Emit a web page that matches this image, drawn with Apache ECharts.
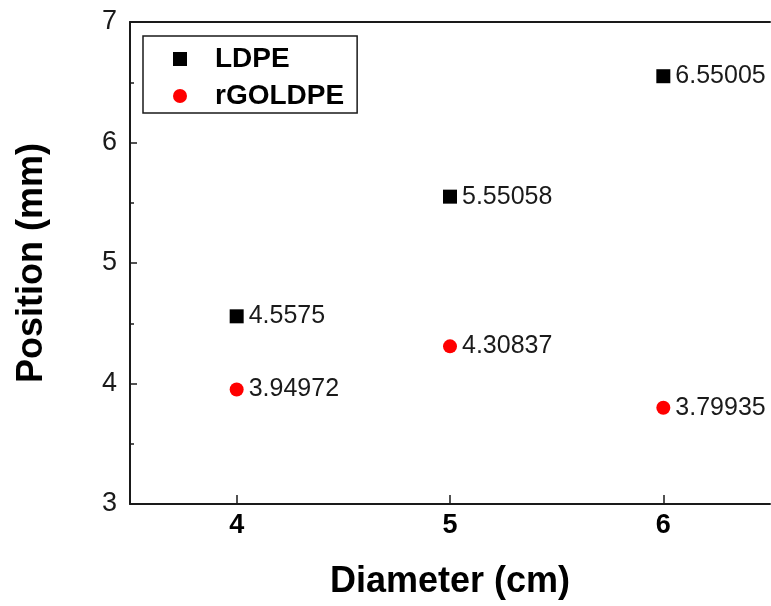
<!DOCTYPE html>
<html>
<head>
<meta charset="utf-8">
<script src="https://cdn.jsdelivr.net/npm/echarts@6/dist/echarts.min.js"></script>
<style>
  html, body { margin: 0; padding: 0; background: #fff; }
  #main { width: 771px; height: 606px; }
</style>
</head>
<body>
<div id="main"></div>
<script>
// data
var diameters = [4, 5, 6];
var ldpe = [4.5575, 5.55058, 6.55005];
var rgoldpe = [3.94972, 4.30837, 3.79935];
var xTicks = [4, 5, 6];
var ldpeLabels = ['4.5575', '5.55058', '6.55005'];
var rgoldpeLabels = ['3.94972', '4.30837', '3.79935'];

var font = 'Liberation Sans, Arial, sans-serif';
var ink = '#1a1a1a';

function pairs(xs, ys) {
  return xs.map(function (x, i) { return [x, ys[i]]; });
}

function labelFor(texts) {
  return {
    show: true,
    position: 'right',
    distance: 5,
    color: ink,
    opacity: 1,
    fontFamily: font,
    fontSize: 25,
    formatter: function (p) { return texts[p.dataIndex]; }
  };
}

var myChart = echarts.init(document.getElementById('main'));
myChart.setOption({
  animation: false,
  backgroundColor: '#fff',
  grid: { left: 130, top: 22, right: 1, bottom: 102 },
  legend: {
    orient: 'vertical',
    left: 143,
    top: 36,
    padding: [9, 13, 3, 30],
    itemGap: 9,
    itemWidth: 14,
    itemHeight: 14,
    borderColor: ink,
    borderWidth: 1.5,
    textStyle: { fontFamily: font, fontSize: 28, fontWeight: 'bold', color: '#000', padding: [0, 0, 0, 23] },
    data: [
      { name: 'LDPE', icon: 'rect', itemStyle: { color: '#000', opacity: 1 } },
      { name: 'rGOLDPE', icon: 'circle', itemStyle: { color: '#ff0000', opacity: 1 } }
    ]
  },
  xAxis: [{
    type: 'value',
    min: 3.5,
    max: 6.5,
    name: 'Diameter (cm)',
    nameLocation: 'middle',
    nameGap: 60,
    nameTextStyle: { fontFamily: font, fontSize: 36, fontWeight: 'bold', color: '#000' },
    axisLine: { show: true, lineStyle: { color: ink, width: 2 } },
    axisTick: { show: true, inside: true, length: 9, customValues: xTicks, lineStyle: { color: ink, width: 1.5 } },
    axisLabel: { customValues: xTicks, margin: 8, fontFamily: font, fontSize: 27, fontWeight: 'bold', color: '#000' },
    splitLine: { show: false }
  }, {
    type: 'value',
    position: 'top',
    min: 3.5,
    max: 6.5,
    axisLine: { show: true, lineStyle: { color: ink, width: 2 } },
    axisTick: { show: false },
    axisLabel: { show: false },
    splitLine: { show: false }
  }],
  yAxis: {
    type: 'value',
    min: 3,
    max: 7,
    interval: 1,
    name: 'Position (mm)',
    nameLocation: 'middle',
    nameGap: 80,
    nameTextStyle: { fontFamily: font, fontSize: 36, fontWeight: 'bold', color: '#000' },
    axisLine: { show: true, lineStyle: { color: ink, width: 2 } },
    axisTick: { show: true, inside: true, length: 7, lineStyle: { color: ink, width: 1.5 } },
    minorTick: { show: true, splitNumber: 2, length: 4, lineStyle: { color: ink, width: 1.5 } },
    axisLabel: { margin: 13, fontFamily: font, fontSize: 27, color: ink, showMinLabel: true, showMaxLabel: true },
    splitLine: { show: false }
  },
  series: [{
    name: 'LDPE',
    type: 'scatter',
    symbol: 'rect',
    symbolSize: 14,
    itemStyle: { color: '#000', opacity: 1 },
    label: labelFor(ldpeLabels),
    data: pairs(diameters, ldpe)
  }, {
    name: 'rGOLDPE',
    type: 'scatter',
    symbol: 'circle',
    symbolSize: 14,
    itemStyle: { color: '#ff0000', opacity: 1 },
    label: labelFor(rgoldpeLabels),
    data: pairs(diameters, rgoldpe)
  }]
});
</script>
</body>
</html>
